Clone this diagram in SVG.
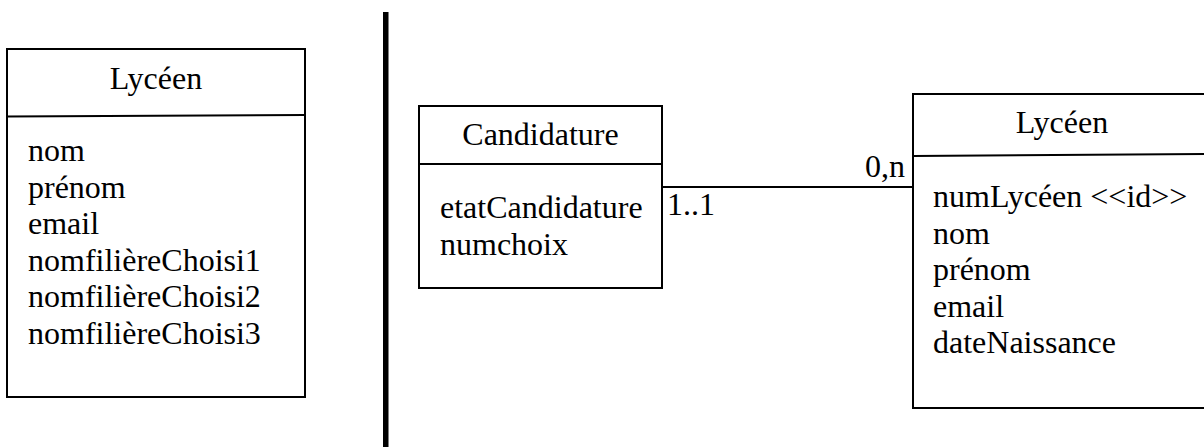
<svg xmlns="http://www.w3.org/2000/svg" width="1204" height="447" viewBox="0 0 1204 447">
<style>
.box{fill:#fff;stroke:#000;stroke-width:2}
.div{stroke:#000;stroke-width:2;fill:none}
text{font-family:"Liberation Serif","Times New Roman",serif;font-size:32px;fill:#000}
.t{text-anchor:middle}
.conn{stroke:#000;stroke-width:2;fill:none}
</style>
<rect x="0" y="0" width="1204" height="447" fill="#fff"/>
<rect id="separator" x="383" y="12" width="5.5" height="435" fill="#000"/>
<g id="lyceen-left">
<rect class="box" x="7" y="49" width="298" height="348"/>
<line class="div" x1="7" y1="116.5" x2="305" y2="115"/>
<text class="t" x="156" y="89">Lycéen</text>
<text x="28" y="161">nom</text>
<text x="28" y="197.5">prénom</text>
<text x="28" y="234">email</text>
<text x="28" y="270.5">nomfilièreChoisi1</text>
<text x="28" y="307">nomfilièreChoisi2</text>
<text x="28" y="343.5">nomfilièreChoisi3</text>
</g>
<g id="candidature">
<rect class="box" x="419" y="106" width="243" height="182"/>
<line class="div" x1="419" y1="164" x2="662" y2="164"/>
<text class="t" x="540.5" y="145">Candidature</text>
<text x="440" y="218">etatCandidature</text>
<text x="440" y="255">numchoix</text>
</g>
<g id="lyceen-right">
<rect class="box" x="913" y="94" width="295" height="314"/>
<line class="div" x1="913" y1="156" x2="1206" y2="154"/>
<text class="t" x="1062" y="133">Lycéen</text>
<text x="933" y="207">numLycéen &lt;&lt;id&gt;&gt;</text>
<text x="933" y="243.5">nom</text>
<text x="933" y="280">prénom</text>
<text x="933" y="316.5">email</text>
<text x="933" y="353">dateNaissance</text>
</g>
<g id="connectors">
<line class="conn" x1="662" y1="187" x2="914" y2="187"/>
<text x="667" y="215">1..1</text>
<text x="905" y="177" text-anchor="end">0,n</text>
</g>
</svg>
